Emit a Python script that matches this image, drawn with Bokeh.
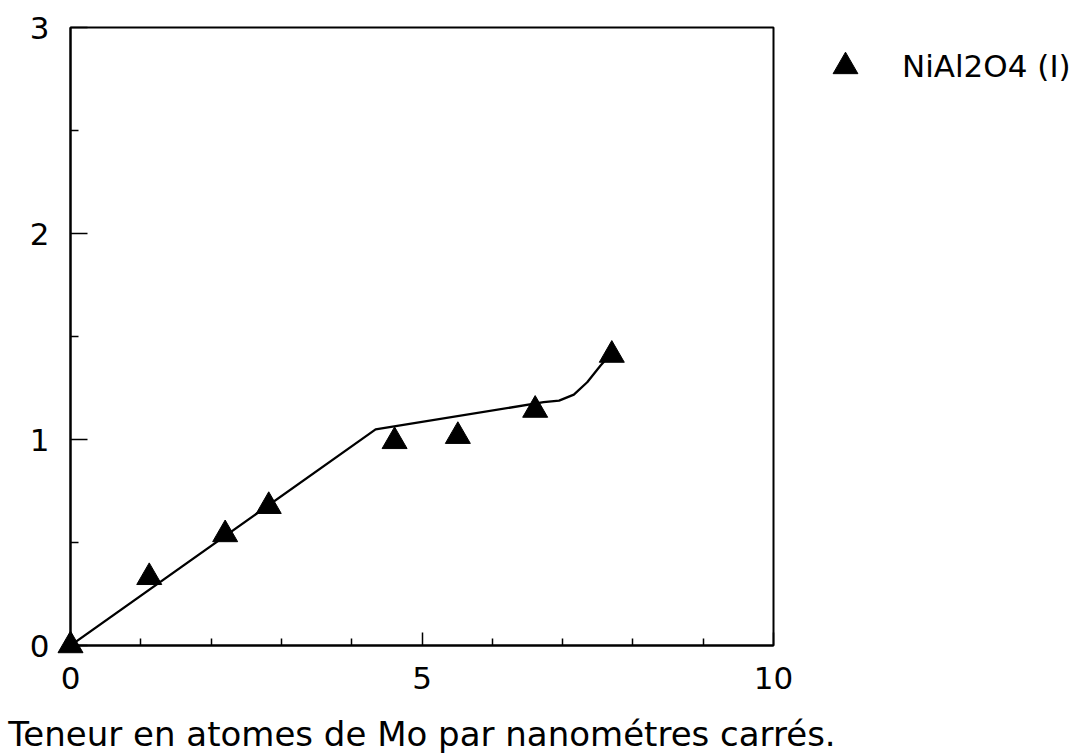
from bokeh.plotting import figure
from bokeh.models import Range1d, FixedTicker, Legend, LegendItem, ColumnDataSource
from bokeh.embed import file_html
from bokeh.resources import INLINE

# Data
mo_x = [0.0, 1.12, 2.20, 2.82, 4.61, 5.51, 6.61, 7.70]
nial_y = [0.0, 0.331, 0.539, 0.676, 0.991, 1.016, 1.143, 1.41]

fit_x = [0.0, 4.34, 6.73, 6.95, 7.16, 7.35, 7.54, 7.71]
fit_y = [0.0, 1.049, 1.181, 1.189, 1.218, 1.278, 1.359, 1.424]

x_major = [0, 5, 10]
x_minor = [1, 2, 3, 4, 6, 7, 8, 9]
y_major = [0, 1, 2, 3]
y_minor = [0.5, 1.5, 2.5]

x_label = "Teneur en atomes de Mo par nanométres carrés."
series_label = "NiAl2O4 (I)"

FONT = "DejaVu Sans"

p = figure(frame_width=703, frame_height=618, output_backend="svg", toolbar_location=None,
           x_range=Range1d(0, 10), y_range=Range1d(0, 3),
           min_border_left=70, min_border_right=0, min_border_top=27, min_border_bottom=105)

p.xgrid.visible = False
p.ygrid.visible = False
p.outline_line_color = "black"
p.outline_line_width = 2
p.background_fill_color = "white"
p.border_fill_color = "white"

fit = p.line(fit_x, fit_y, line_color="black", line_width=2.3)
src = ColumnDataSource(dict(x=mo_x, y=nial_y))
pts = p.scatter("x", "y", source=src, marker="triangle", size=25,
                fill_color="black", line_color="black", level="overlay")

xa = p.xaxis[0]
xa.ticker = FixedTicker(ticks=x_major, minor_ticks=x_minor)
xa.axis_line_width = 2
xa.major_tick_in = 13
xa.major_tick_out = 0
xa.minor_tick_in = 7
xa.minor_tick_out = 0
xa.major_tick_line_width = 1.5
xa.minor_tick_line_width = 1.5
xa.major_label_text_font = FONT
xa.major_label_text_font_size = "31px"
xa.major_label_text_color = "black"
xa.major_label_standoff = 21
xa.axis_label = x_label
xa.axis_label_text_font = FONT
xa.axis_label_text_font_size = "34px"
xa.axis_label_text_font_style = "normal"
xa.axis_label_text_color = "black"
xa.axis_label_standoff = 22

ya = p.yaxis[0]
ya.ticker = FixedTicker(ticks=y_major, minor_ticks=y_minor)
ya.axis_line_width = 2
ya.major_tick_in = 17
ya.major_tick_out = 0
ya.minor_tick_in = 8
ya.minor_tick_out = 0
ya.major_tick_line_width = 1.5
ya.minor_tick_line_width = 1.5
ya.major_label_text_font = FONT
ya.major_label_text_font_size = "31px"
ya.major_label_text_color = "black"
ya.major_label_standoff = 21
ya.major_label_orientation = "horizontal"

legend = Legend(items=[LegendItem(label=series_label, renderers=[pts])],
                location=(41, 548), margin=0, padding=0,
                glyph_width=62, glyph_height=62, label_standoff=26,
                label_text_font=FONT, label_text_font_size="31px",
                label_text_color="black", border_line_color=None,
                background_fill_alpha=0)
p.add_layout(legend, "right")

open("out.html", "w").write(file_html(p, INLINE))
